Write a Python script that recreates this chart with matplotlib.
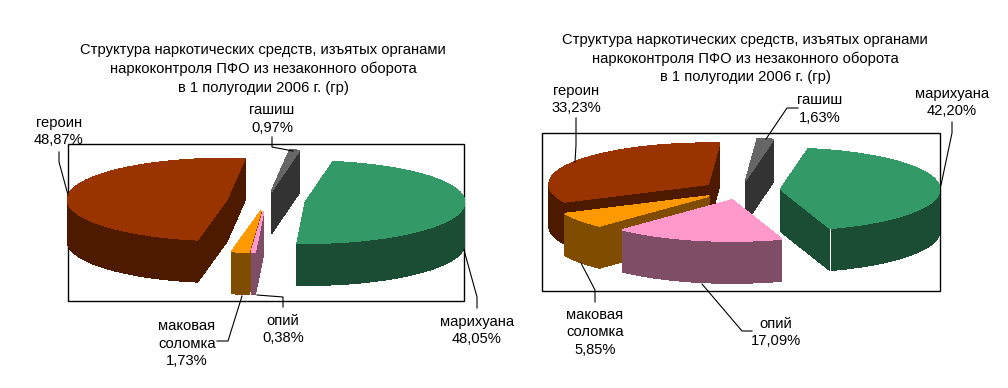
import numpy as np
import matplotlib
matplotlib.use("Agg")
import matplotlib.pyplot as plt
from matplotlib.patches import Polygon, Rectangle

plt.rcParams['font.family'] = ['Liberation Sans', 'DejaVu Sans']

# slices go clockwise, starting 10 degrees past 12 o'clock
names = ["марихуана", "опий", "маковая\nсоломка", "героин", "гашиш"]
values_left = [48.05, 0.38, 1.73, 48.87, 0.97]
values_right = [42.20, 17.09, 5.85, 33.23, 1.63]
title = "Структура наркотических средств, изъятых органами\nнаркоконтроля ПФО из незаконного оборота\nв 1 полугодии 2006 г. (гр)"

top_colors = ["#339966", "#FF99CC", "#FF9900", "#993300", "#666666"]
side_colors = ["#1A4D33", "#804D66", "#804D00", "#4D1A00", "#333333"]

RX = 159
RY = 41
DEPTH = 42
EXPLODE = 0.25
START = 10


def fmt(v):
    return ("%.2f%%" % v).replace(".", ",")


def rim(cx, cy, a, b):
    t = np.radians(np.linspace(a, b, 120))
    return np.column_stack((cx + RX * np.sin(t), cy - RY * np.cos(t)))


def draw_pie(ax, values, cx, cy):
    angles = np.array(values) / sum(values) * 360
    starts = START + np.concatenate(([0], np.cumsum(angles)[:-1]))
    slices = []
    for i in range(len(values)):
        a = starts[i]
        b = a + angles[i]
        mid = np.radians((a + b) / 2)
        ax_x = cx + EXPLODE * RX * np.sin(mid)
        ax_y = cy - EXPLODE * RY * np.cos(mid)
        slices.append((ax_y, ax_x, a, b, i))
    # back slices first
    for ax_y, ax_x, a, b, i in sorted(slices):
        arc = rim(ax_x, ax_y, a, b)
        for end in (arc[0], arc[-1]):
            face = [(ax_x, ax_y), end, (end[0], end[1] + DEPTH), (ax_x, ax_y + DEPTH)]
            ax.add_patch(Polygon(face, fc=side_colors[i], ec=side_colors[i], lw=0.5, antialiased=False))
        lo = max(a, 90)
        hi = min(b, 270)
        if hi > lo:
            front = rim(ax_x, ax_y, lo, hi)
            low = front[::-1] + [0, DEPTH]
            ax.add_patch(Polygon(np.vstack((front, low)), fc=side_colors[i], ec=side_colors[i], lw=0.5, antialiased=False))
        ax.add_patch(Polygon(np.vstack(([(ax_x, ax_y)], arc)), fc=top_colors[i], ec=top_colors[i], lw=0.5, antialiased=False))


fig = plt.figure(figsize=(10.08, 3.88), dpi=100)
ax = fig.add_axes([0, 0, 1, 1])
ax.set_xlim(0, 1008)
ax.set_ylim(388, 0)
ax.axis("off")

# left chart
ax.add_patch(Rectangle((68, 144), 396, 157, fc="white", ec="black", lw=1))
draw_pie(ax, values_left, 266, 201)
ax.text(263, 69, title, ha="center", va="center", fontsize=10.6, linespacing=1.4)
label_pos_left = [(477, 330.5), (283, 329.5), (187, 343.5), (59, 131.5), (272, 119)]
leaders_left = [
    [(464, 250), (477, 297), (477, 308)],
    [(257, 295), (283, 297), (283, 307)],
    [(242, 296), (228, 341), (217, 341)],
    [(59, 152), (59, 162), (68, 195)],
    [(272, 137), (272, 147), (293, 151)],
]

# right chart
ax.add_patch(Rectangle((542, 133), 398, 158, fc="white", ec="black", lw=1))
draw_pie(ax, values_right, 741, 190)
ax.text(745, 58.5, title, ha="center", va="center", fontsize=10.6, linespacing=1.4)
label_pos_right = [(952, 102.5), (776, 332.5), (595, 332.5), (576, 99.5), (820, 109)]
leaders_right = [
    [(952, 122), (952, 133), (941, 185)],
    [(702, 284), (742, 331), (752, 331)],
    [(581, 263), (595, 290), (595, 302)],
    [(576, 118), (576, 145), (575, 162)],
    [(798, 108), (787, 108), (766, 139)],
]

# white seam on the right marijuana slice
ax.plot([830, 830], [229, 270], color="white", lw=0.6, antialiased=False)

for values, label_pos, leaders in ((values_left, label_pos_left, leaders_left), (values_right, label_pos_right, leaders_right)):
    for i in range(len(values)):
        ax.text(label_pos[i][0], label_pos[i][1], names[i] + "\n" + fmt(values[i]),
                ha="center", va="center", fontsize=10.6, linespacing=1.3)
        xs = [p[0] for p in leaders[i]]
        ys = [p[1] for p in leaders[i]]
        ax.plot(xs, ys, color="black", lw=0.8)

fig.savefig("out.png", dpi=100, facecolor="white")
